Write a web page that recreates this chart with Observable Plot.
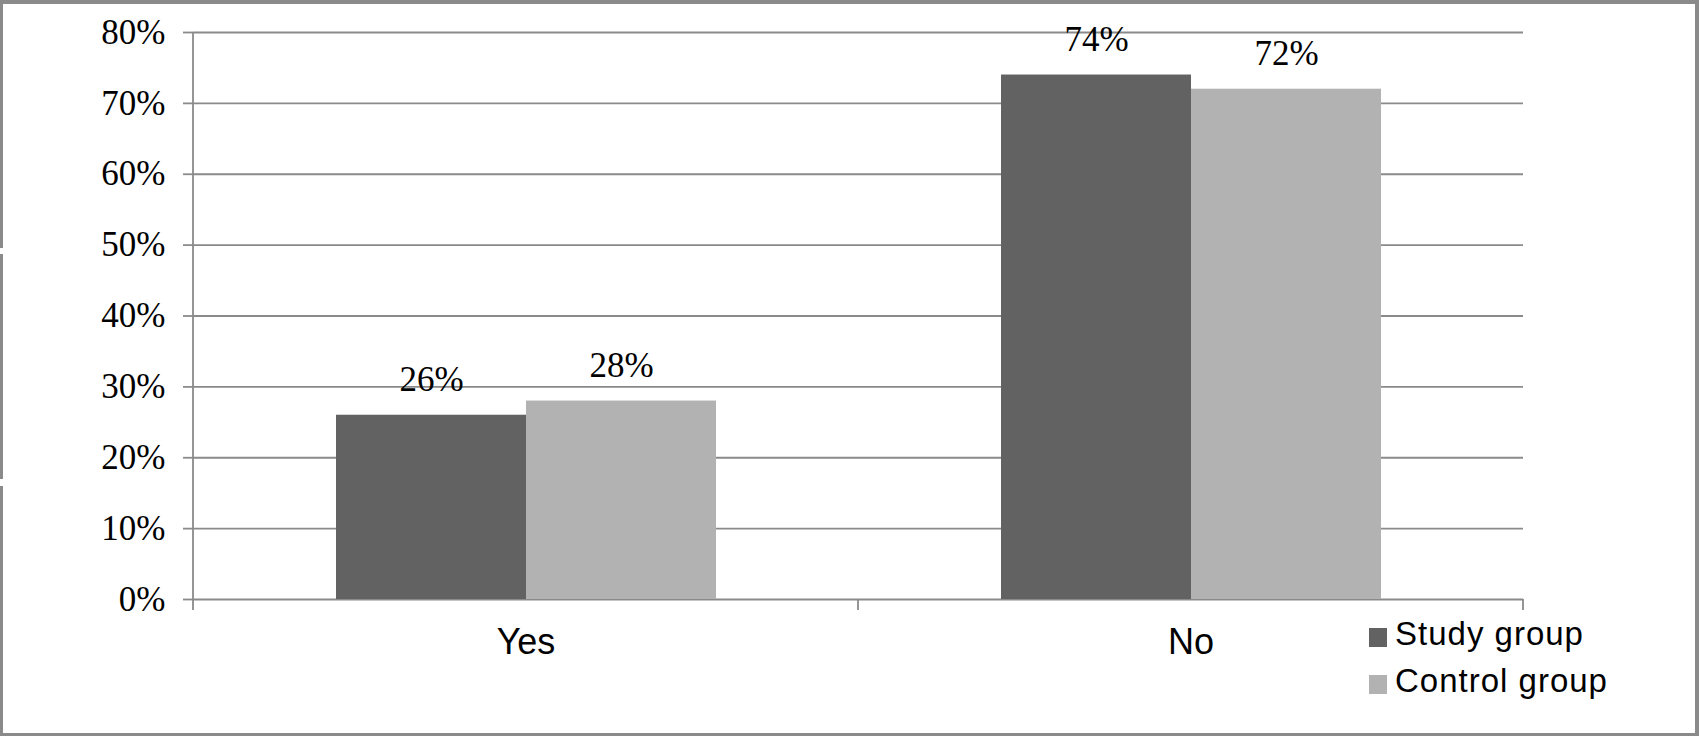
<!DOCTYPE html>
<html><head><meta charset="utf-8">
<script src="https://cdn.jsdelivr.net/npm/d3@7"></script>
<script src="https://cdn.jsdelivr.net/npm/@observablehq/plot@0.6"></script>
<style>
body{margin:0;background:#fff;}
#wrap{position:relative;width:1699px;height:736px;overflow:hidden;background:#fff;}
#wrap svg{position:absolute;left:0;top:0;}
#border{position:absolute;left:0;top:0;width:1699px;height:736px;box-sizing:border-box;border:3px solid #8a8a8a;border-top-width:4px;border-right-width:4px;pointer-events:none;}
.gap{position:absolute;left:0;width:4px;background:#fff;}
#legend{position:absolute;left:1369px;top:0;font-family:"Liberation Sans",Arial,sans-serif;font-size:33px;letter-spacing:1px;color:#000;}
.row{position:absolute;left:0;white-space:nowrap;line-height:33px;height:33px;}
.sw{position:absolute;left:0;width:18px;height:19px;top:11px;}
.lab{position:absolute;left:26px;top:0;}
</style></head><body><div id="wrap"></div>
<script>
const categories = ["Yes", "No"];
const series = ["Study group", "Control group"];
const studyValues = [0.26, 0.74];
const controlValues = [0.28, 0.72];
const colors = ["#626262", "#b2b2b2"];
const yTicks = [0, 0.1, 0.2, 0.3, 0.4, 0.5, 0.6, 0.7, 0.8];

const data = categories.flatMap((c, i) => [
  {category: c, group: series[0], value: studyValues[i]},
  {category: c, group: series[1], value: controlValues[i]}
]);
const pct = d3.format(".0%");

const plot = Plot.plot({
  width: 1699, height: 736,
  marginLeft: 192, marginRight: 176, marginTop: 32, marginBottom: 137,
  style: {background: "transparent", color: "#000", overflow: "visible"},
  fx: {domain: categories, padding: 0, label: null},
  x: {domain: series, paddingInner: 0, paddingOuter: 0.75, axis: null},
  y: {domain: [0, 0.8], label: null},
  color: {domain: series, range: colors},
  marks: [
    Plot.gridY(yTicks, {stroke: "#8a8a8a", strokeOpacity: 1, strokeWidth: 1.8}),
    Plot.axisY(yTicks, {tickFormat: pct, tickSize: 10, tickPadding: 18, fontSize: 35,
      fontFamily: "Liberation Serif", stroke: "#8a8a8a", strokeWidth: 1.8, strokeOpacity: 1, label: null}),
    Plot.barY(data, {fx: "category", x: "group", y: "value", fill: "group"}),
    Plot.text(data, {fx: "category", x: "group", y: "value", text: d => pct(d.value),
      lineAnchor: "bottom", dy: -24, fontSize: 35, fontFamily: "Liberation Serif", fill: "#000"}),
    Plot.axisFx({anchor: "bottom", tickSize: 0, tickPadding: 29, fontSize: 36, fontFamily: "Liberation Sans", label: null})
  ]
});

const wrap = document.getElementById("wrap");
wrap.appendChild(plot);

// axis line and category-boundary ticks, from the plot's own scales
const fx = plot.scale("fx"), y = plot.scale("y");
const y0 = y.apply(0), yTop = y.apply(0.8);
const bw = fx.bandwidth != null ? fx.bandwidth : (fx.apply(categories[1]) - fx.apply(categories[0]));
const bounds = categories.map(c => fx.apply(c)).concat([fx.apply(categories[categories.length - 1]) + bw]);
const g = d3.select(plot).append("g").attr("stroke", "#8a8a8a").attr("stroke-width", 1.8);
bounds.forEach((bx, i) => {
  g.append("line").attr("x1", bx).attr("x2", bx)
    .attr("y1", i === 0 ? yTop : y0).attr("y2", y0 + 11);
});

// outer border
const border = document.createElement("div");
border.id = "border";
wrap.appendChild(border);
[[248, 6], [479, 7]].forEach(([t, h]) => {
  const d = document.createElement("div");
  d.className = "gap"; d.style.top = t + "px"; d.style.height = h + "px";
  wrap.appendChild(d);
});

// legend
const legend = document.createElement("div");
legend.id = "legend";
series.forEach((s, i) => {
  const row = document.createElement("div");
  row.className = "row";
  row.style.top = (617 + i * 47) + "px";
  const sw = document.createElement("span");
  sw.className = "sw"; sw.style.background = colors[i];
  const lab = document.createElement("span");
  lab.className = "lab"; lab.textContent = s;
  row.appendChild(sw); row.appendChild(lab);
  legend.appendChild(row);
});
wrap.appendChild(legend);
</script></body></html>
